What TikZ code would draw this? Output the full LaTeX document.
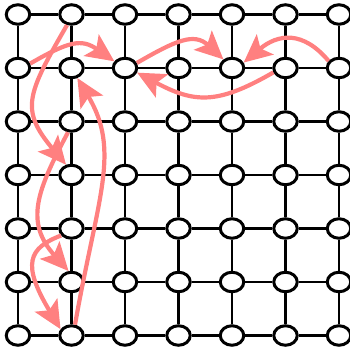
\documentclass[tikz,border=0pt]{standalone}
\usetikzlibrary{arrows.meta,shapes.geometric}
\definecolor{salmonred}{RGB}{255,128,128}
\begin{document}
\begin{tikzpicture}[x=1pt,y=1pt,
  vtx/.style={ellipse,draw=black,fill=white,line width=3pt,minimum width=23.5pt,minimum height=19.5pt,inner sep=0pt},
  edge/.style={draw=black,line width=2.8pt},
  move/.style={draw=salmonred,line width=4.2pt,-{Stealth[length=28pt,width=26pt,inset=6pt]}}]
\useasboundingbox (0,0) rectangle (350,347);
\foreach \c in {0,...,6}{
  \foreach \r in {0,...,6}{
    \node[vtx] (n\c\r) at ({18+53.5*\c},{332.5-53.5*\r}) {};
  }
}
\foreach \r in {0,...,6}{
  \foreach \c [evaluate=\c as \cc using int(\c+1)] in {0,...,5}{
    \draw[edge] (n\c\r) -- (n\cc\r);
    \draw[edge] (n\r\c) -- (n\r\cc);
  }
}
% red moves
\draw[move] (n01.20) .. controls +(30:45) and +(145:40) .. (n21.148);
\draw[move] (n21.23) .. controls +(30:45) and +(137:40) .. (n41.135);
\draw[move] (n61.146) .. controls +(130:40) and +(40:45) .. (n41.25);
\draw[move] (n51.200) .. controls +(210:65) and +(-28:65) .. (n21.-21);
\draw[move] (n10.247) .. controls +(240:80) and +(130:72) .. (n13.118);
\draw[move] (n12.252) .. controls +(242:66) and +(132:66) .. (n15.105);
\draw[move] (n14.214) .. controls +(201:35) and +(121:76) .. (n16.150);
\draw[move] (n16.72) .. controls +(80:130) and +(301:85) .. (n11.300);
\end{tikzpicture}
\end{document}
